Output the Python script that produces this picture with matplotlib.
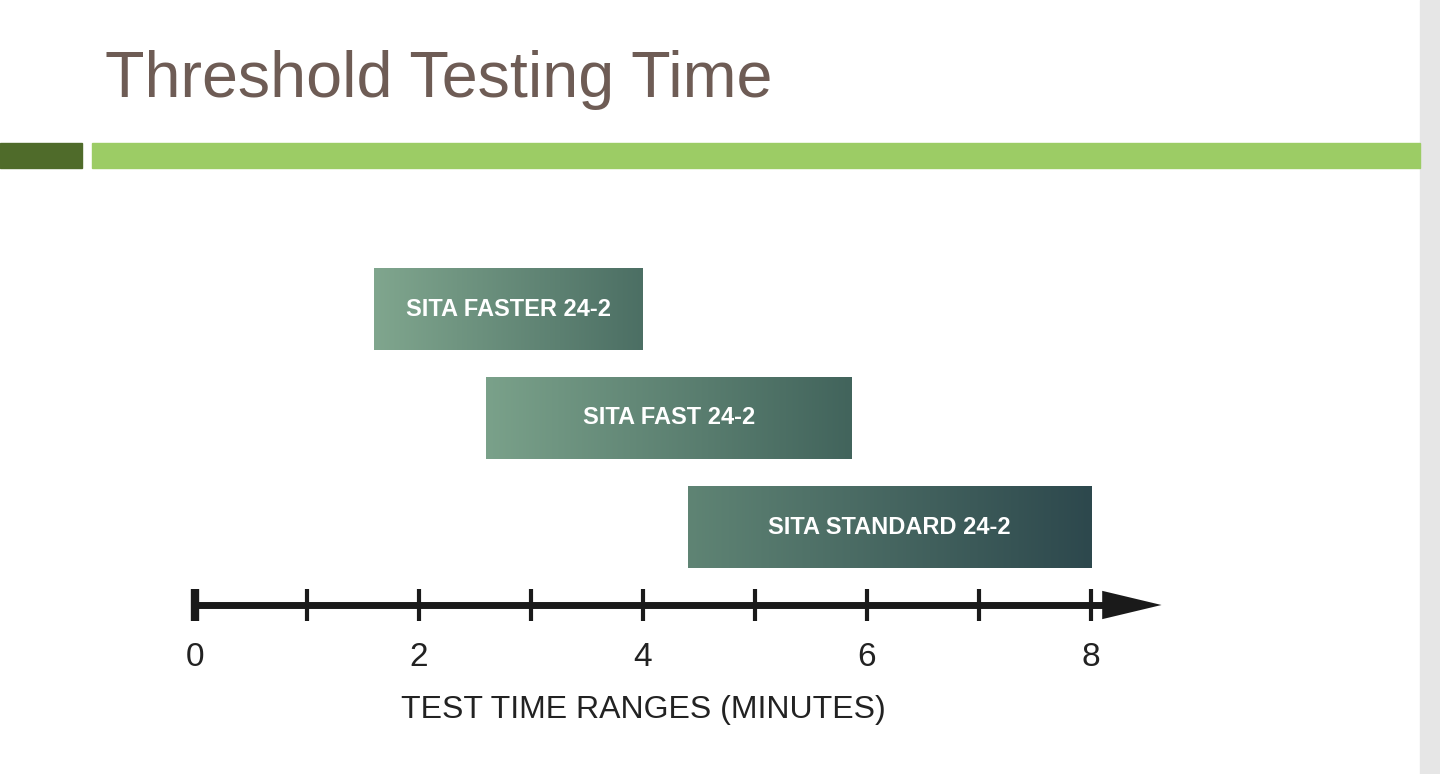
import numpy as np
import matplotlib
matplotlib.use("Agg")
import matplotlib.pyplot as plt
from matplotlib.colors import LinearSegmentedColormap

labels = ["SITA FASTER 24-2", "SITA FAST 24-2", "SITA STANDARD 24-2"]
starts = [1.6, 2.6, 4.4]
ends = [4.0, 5.86, 8.0]
ticks = [0, 1, 2, 3, 4, 5, 6, 7, 8]
ticklabels = ["0", "", "2", "", "4", "", "6", "", "8"]
grad = [("#80a68e", "#4c6f64"), ("#7aa18a", "#42645c"), ("#5f8474", "#2d484d")]

W, H = 1440, 774
fig = plt.figure(figsize=(W/100, H/100), dpi=100)
fig.patch.set_facecolor("white")

fig.patches.append(plt.Rectangle((1420/W, 0), 20/W, 1, transform=fig.transFigure, color="#e6e6e6"))
fig.patches.append(plt.Rectangle((0, 1-168/H), 82/W, 25/H, transform=fig.transFigure, color="#4f6b2a"))
fig.patches.append(plt.Rectangle((92/W, 1-168/H), 1328/W, 25/H, transform=fig.transFigure, color="#9ccc65"))
fig.text(105/W, 1-80/H, "Threshold Testing Time", fontsize=46.5, color="#6e5c55",
         va="center", ha="left", family="Liberation Sans")

left_px, right_px = 195-112, 195+112*9
top_px, bot_px = 200, 750
ax = fig.add_axes([left_px/W, 1-bot_px/H, (right_px-left_px)/W, (bot_px-top_px)/H])
ax.set_xlim(-1, 9)
ax.set_ylim((bot_px-309)/109, (top_px-309)/109)
ax.axis("off")

bh = 0.75
for i, (lab, s, e, (c0, c1)) in enumerate(zip(labels, starts, ends, grad)):
    cmap = LinearSegmentedColormap.from_list("g", [c0, c1])
    ax.imshow(np.linspace(0, 1, 256)[None, :], cmap=cmap, aspect="auto",
              extent=[s, e, i+bh/2, i-bh/2], zorder=2)
    ax.text((s+e)/2, i, lab, color="white", ha="center", va="center",
            fontsize=17, fontweight="bold", family="Liberation Sans", zorder=3)

ay = (605-309)/109
ax.plot([0, 8.3], [ay, ay], color="#1a1a1a", lw=5, solid_capstyle="butt")
ax.add_patch(plt.Polygon([[8.1, ay-0.13], [8.1, ay+0.13], [8.63, ay]], closed=True,
                         color="#1a1a1a", lw=0))
for t, tl in zip(ticks, ticklabels):
    ax.plot([t, t], [ay-0.15, ay+0.15], color="#1a1a1a", lw=3 if t else 6, solid_capstyle="butt")
    if tl:
        ax.text(t, (657-309)/109, tl, ha="center", va="center", fontsize=24, color="#222222",
                family="Liberation Sans")
ax.text(4, (710-309)/109, "TEST TIME RANGES (MINUTES)", ha="center", va="center",
        fontsize=23, color="#222222", family="Liberation Sans")
ax.set_xlim(-1, 9)

fig.savefig("out.png", dpi=100)
